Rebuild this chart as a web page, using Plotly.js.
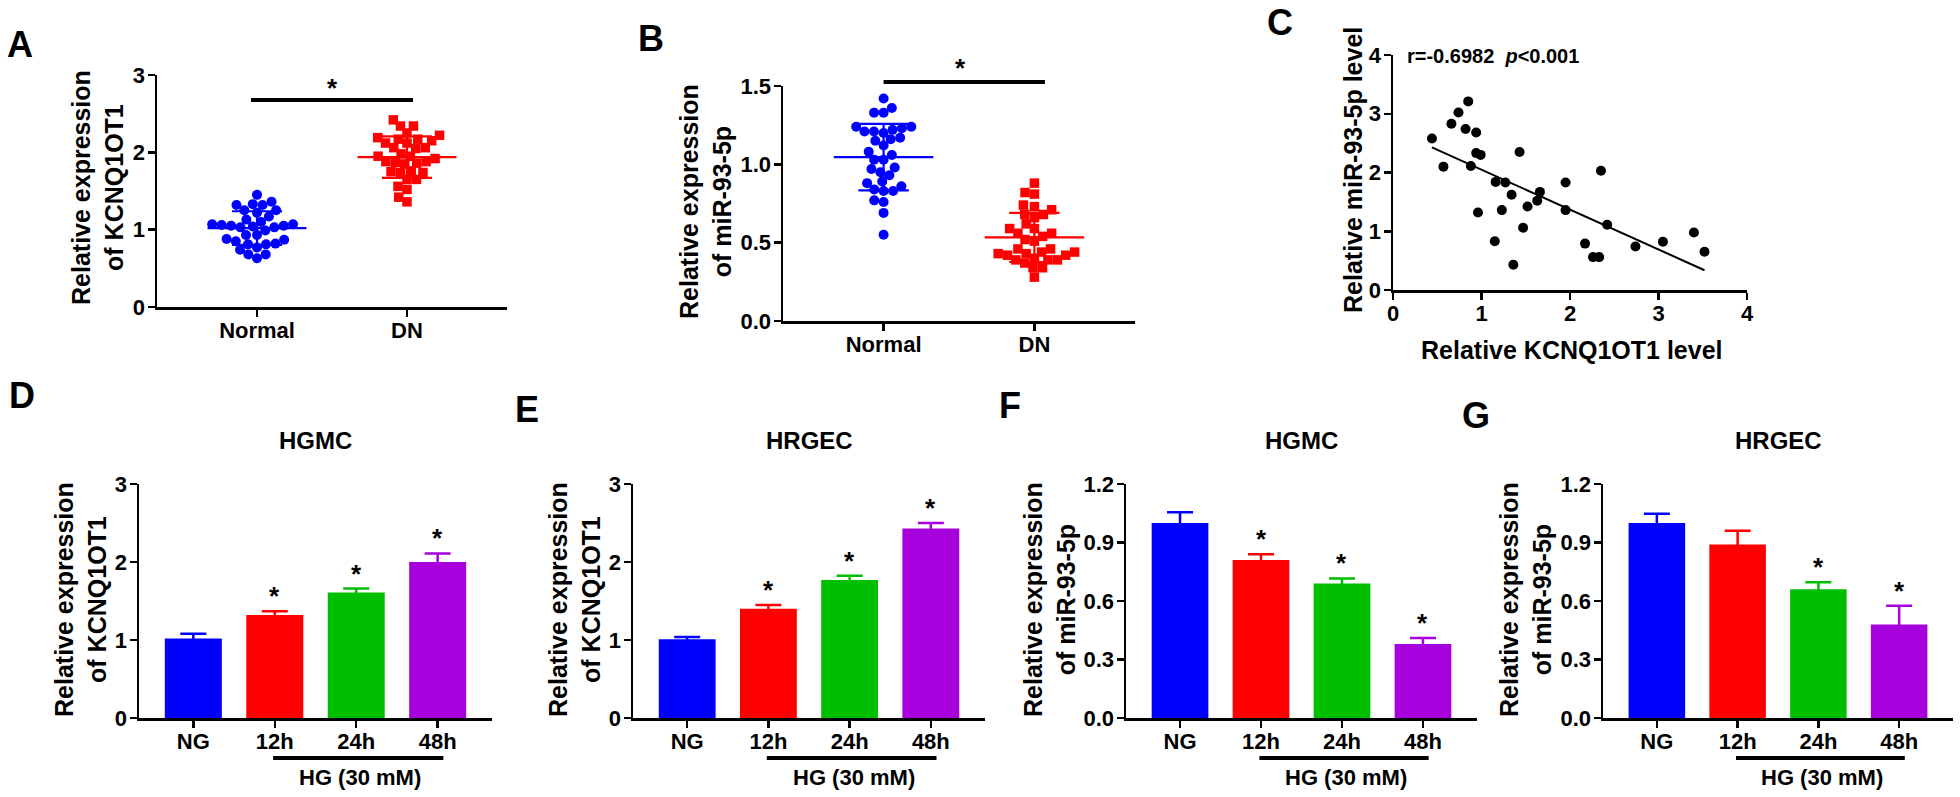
<!DOCTYPE html>
<html>
<head>
<meta charset="utf-8">
<script src="https://cdn.plot.ly/plotly-3.0.1.min.js"></script>
<style>
  html, body { margin: 0; padding: 0; background: #fff; }
  #fig { width: 1960px; height: 797px; }
</style>
</head>
<body>
<div id="fig"></div>
<script>
const W = 1960;
const H = 797;
const FONT = 'Liberation Sans, Arial, sans-serif';

// A: KCNQ1OT1 in tissue
const tissueGroups = ['Normal', 'DN'];
const kcnqNormal = [1.45, 1.33, 1.32, 1.32, 1.36, 1.25, 1.22, 1.25, 1.17, 1.13, 1.10, 1.07, 1.05,
  1.03, 1.03, 1.04, 1.05, 1.06, 1.07, 0.93, 0.99, 0.93, 0.88, 0.85, 0.82, 0.87, 0.81, 0.77,
  0.81, 0.74, 0.68, 0.68, 0.63];
const kcnqDN = [2.42, 2.34, 2.34, 2.22, 2.25, 2.17, 2.15, 2.17, 2.19, 2.12, 2.12, 2.06, 2.05,
  2.06, 1.98, 1.95, 1.92, 1.95, 1.86, 1.85, 1.88, 1.87, 1.88, 1.76, 1.74, 1.74, 1.75, 1.65,
  1.65, 1.52, 1.56, 1.36, 1.42];

// B: miR-93-5p in tissue
const mirNormal = [1.42, 1.33, 1.36, 1.33, 1.23, 1.21, 1.20, 1.24, 1.24, 1.21, 1.22, 1.16, 1.15,
  1.17, 1.12, 1.08, 1.06, 1.03, 1.03, 0.98, 0.97, 0.95, 0.93, 0.88, 0.89, 0.84, 0.83, 0.83,
  0.86, 0.76, 0.77, 0.69, 0.55];
const mirDN = [0.88, 0.81, 0.82, 0.73, 0.74, 0.71, 0.68, 0.66, 0.68, 0.62, 0.59, 0.59, 0.56,
  0.54, 0.51, 0.52, 0.56, 0.46, 0.44, 0.43, 0.42, 0.39, 0.39, 0.39, 0.40, 0.42, 0.43, 0.44,
  0.46, 0.34, 0.34, 0.37, 0.28];

// C: correlation
const corrKcnq = [0.44, 0.57, 0.66, 0.74, 0.85, 0.82, 0.94, 0.94, 0.99, 0.88, 0.96, 1.16, 1.27,
  1.15, 1.23, 1.34, 1.43, 1.36, 1.47, 1.52, 1.63, 1.66, 1.95, 1.95, 2.17, 2.26, 2.33, 2.35,
  2.42, 2.74, 3.05, 3.40, 3.52];
const corrMir = [2.58, 2.10, 2.83, 3.02, 3.21, 2.74, 2.68, 2.33, 2.30, 2.11, 1.32, 1.84, 1.83,
  0.83, 1.36, 1.62, 2.35, 0.43, 1.06, 1.42, 1.52, 1.67, 1.83, 1.36, 0.79, 0.56, 0.56, 2.03,
  1.11, 0.74, 0.82, 0.98, 0.65];
const corrText = 'r=-0.6982\u00a0\u00a0<i>p</i>&lt;0.001';

// D-G: cell lines, time course
const timeLabels = ['NG', '12h', '24h', '48h'];
const barColors = ['#0000FF', '#FF0000', '#00BE00', '#A600DC'];
const hgmcKcnq = [1.02, 1.32, 1.61, 2.00];
const hgmcKcnqSd = [0.06, 0.05, 0.05, 0.11];
const hgmcKcnqSig = [false, true, true, true];
const hrgecKcnq = [1.01, 1.40, 1.77, 2.43];
const hrgecKcnqSd = [0.03, 0.05, 0.055, 0.07];
const hrgecKcnqSig = [false, true, true, true];
const hgmcMir = [1.00, 0.81, 0.69, 0.38];
const hgmcMirSd = [0.055, 0.03, 0.026, 0.03];
const hgmcMirSig = [false, true, true, true];
const hrgecMir = [1.00, 0.89, 0.66, 0.48];
const hrgecMirSd = [0.047, 0.07, 0.036, 0.096];
const hrgecMirSig = [false, false, true, true];

const X = px => px / W;
const Y = py => 1 - py / H;

const traces = [];
const layout = {
  width: W,
  height: H,
  margin: {l: 0, r: 0, t: 0, b: 0},
  paper_bgcolor: '#fff',
  plot_bgcolor: 'rgba(0,0,0,0)',
  showlegend: false,
  barmode: 'overlay',
  font: {family: FONT, color: '#000'},
  annotations: [],
  shapes: [],
};

const axisStyle = {
  showline: true, linecolor: '#000', linewidth: 2.5,
  ticks: 'outside', ticklen: 7, tickwidth: 2.5, tickcolor: '#000',
  showgrid: false, zeroline: false, fixedrange: true,
};

function setAxes(n, g, xOpts, yOpts) {
  const s = n === 1 ? '' : String(n);
  layout['xaxis' + s] = Object.assign({}, axisStyle, {
    domain: [X(g.l), X(g.r)], range: g.xr, anchor: 'y' + s, ticklabelstandoff: -5,
    tickfont: {family: FONT, size: 22, weight: 'bold', color: '#000'},
  }, xOpts);
  layout['yaxis' + s] = Object.assign({}, axisStyle, {
    domain: [Y(g.b), Y(g.t)], range: g.yr, anchor: 'x' + s, ticklabelstandoff: -2,
    tickfont: {family: FONT, size: 22, weight: 'bold', color: '#000'},
  }, yOpts);
  return {x: 'x' + s, y: 'y' + s};
}

function text(t, px, py, size, extra) {
  layout.annotations.push(Object.assign({
    text: t, x: X(px), y: Y(py), xref: 'paper', yref: 'paper',
    showarrow: false, xanchor: 'center', yanchor: 'middle',
    font: {family: FONT, size: size, weight: 'bold', color: '#000'},
  }, extra || {}));
}

function mean(a) { return a.reduce((s, v) => s + v, 0) / a.length; }
function sd(a) {
  const m = mean(a);
  return Math.sqrt(a.reduce((s, v) => s + (v - m) * (v - m), 0) / (a.length - 1));
}

// horizontal offsets so that dots of one column do not overlap (beeswarm)
function swarm(values, pxY, pxX, diam) {
  const order = values.map((v, i) => i).sort((a, b) => values[a] - values[b]);
  const placed = [];
  const offs = new Array(values.length);
  for (const i of order) {
    const y = values[i] * pxY;
    const blocked = [];
    placed.forEach(p => {
      const dy = y - p.y;
      if (Math.abs(dy) < diam) {
        const dx = Math.sqrt(diam * diam - dy * dy);
        blocked.push([p.x - dx, p.x + dx]);
      }
    });
    const cands = [0];
    blocked.forEach(b => cands.push(b[0], b[1]));
    cands.sort((a, b) => Math.abs(a) - Math.abs(b));
    let x = 0;
    for (const c of cands) {
      if (blocked.every(b => c <= b[0] + 1e-6 || c >= b[1] - 1e-6)) { x = c; break; }
    }
    placed.push({x: x, y: y});
    offs[i] = x / pxX;
  }
  return offs;
}

function dotPanel(ax, g, groups) {
  const pxX = (g.r - g.l) / (g.xr[1] - g.xr[0]);
  const pxY = (g.b - g.t) / (g.yr[1] - g.yr[0]);
  groups.forEach((grp, k) => {
    const offs = swarm(grp.vals, pxY, pxX, 9.5);
    traces.push({
      type: 'scatter', mode: 'markers', xaxis: ax.x, yaxis: ax.y,
      x: offs.map(o => k + o), y: grp.vals,
      marker: {color: grp.color, size: grp.size, symbol: grp.symbol},
      hoverinfo: 'skip',
    });
    const m = mean(grp.vals);
    const s = sd(grp.vals);
    traces.push({
      type: 'scatter', mode: 'lines', xaxis: ax.x, yaxis: ax.y,
      x: [k - 0.33, k + 0.33, null, k - 0.167, k + 0.167, null, k - 0.167, k + 0.167, null, k, k],
      y: [m, m, null, m + s, m + s, null, m - s, m - s, null, m - s, m + s],
      line: {color: grp.color, width: 2.2},
      hoverinfo: 'skip',
    });
  });
}

function barPanel(ax, means, sds, sig) {
  means.forEach((v, i) => {
    traces.push({
      type: 'bar', xaxis: ax.x, yaxis: ax.y,
      x: [i], y: [v], width: 0.7,
      marker: {color: barColors[i], line: {width: 0}},
      error_y: {type: 'data', array: [sds[i]], color: barColors[i], thickness: 2.5, width: 13},
      hoverinfo: 'skip',
    });
    if (sig[i]) {
      layout.annotations.push({
        text: '*', x: i, y: v + sds[i], xref: ax.x, yref: ax.y,
        showarrow: false, xanchor: 'center', yanchor: 'bottom', yshift: -2,
        font: {family: FONT, size: 26, weight: 'bold', color: '#000'},
      });
    }
  });
  layout.shapes.push({
    type: 'line', xref: ax.x, yref: 'paper', x0: 0.98, x1: 3.07, y0: Y(758), y1: Y(758),
    line: {color: '#000', width: 4},
  });
  layout.annotations.push({
    text: 'HG (30 mM)', x: 2.05, y: Y(777), xref: ax.x, yref: 'paper',
    showarrow: false, xanchor: 'center', yanchor: 'middle',
    font: {family: FONT, size: 22, weight: 'bold', color: '#000'},
  });
}

// ---- A ----
const gA = {l: 157, r: 507, t: 75, b: 307, xr: [-0.667, 1.667], yr: [0, 3]};
const axA = setAxes(1, gA, {tickvals: [0, 1], ticktext: tissueGroups}, {dtick: 1, tick0: 0});
dotPanel(axA, gA, [
  {vals: kcnqNormal, color: '#0000FF', symbol: 'circle', size: 10},
  {vals: kcnqDN, color: '#FF0000', symbol: 'square', size: 9.5},
]);
layout.shapes.push({type: 'line', xref: axA.x, yref: 'paper', x0: -0.04, x1: 1.04,
  y0: Y(100), y1: Y(100), line: {color: '#000', width: 4}});
text('*', 332, 88, 26);
text('Relative expression<br>of KCNQ1OT1', 97, 188, 25, {textangle: -90});

// ---- B ----
const gB = {l: 783, r: 1135, t: 86, b: 321, xr: [-0.667, 1.667], yr: [0, 1.5]};
const axB = setAxes(2, gB, {tickvals: [0, 1], ticktext: tissueGroups},
  {dtick: 0.5, tick0: 0, tickformat: '.1f'});
dotPanel(axB, gB, [
  {vals: mirNormal, color: '#0000FF', symbol: 'circle', size: 10},
  {vals: mirDN, color: '#FF0000', symbol: 'square', size: 9.5},
]);
layout.shapes.push({type: 'line', xref: axB.x, yref: 'paper', x0: 0, x1: 1.07,
  y0: Y(82), y1: Y(82), line: {color: '#000', width: 4}});
text('*', 960, 68, 26);
text('Relative expression<br>of miR-93-5p', 706, 202, 25, {textangle: -90});

// ---- C ----
const gC = {l: 1393, r: 1747, t: 55, b: 290, xr: [0, 4], yr: [0, 4]};
const axC = setAxes(3, gC, {dtick: 1, tick0: 0}, {dtick: 1, tick0: 0});
traces.push({
  type: 'scatter', mode: 'markers', xaxis: axC.x, yaxis: axC.y,
  x: corrKcnq, y: corrMir, marker: {color: '#000', size: 10}, hoverinfo: 'skip',
});
const mx = mean(corrKcnq);
const my = mean(corrMir);
let sxy = 0, sxx = 0;
corrKcnq.forEach((v, i) => { sxy += (v - mx) * (corrMir[i] - my); sxx += (v - mx) * (v - mx); });
const slope = sxy / sxx;
const icpt = my - slope * mx;
const fitX = [Math.min(...corrKcnq), Math.max(...corrKcnq)];
traces.push({
  type: 'scatter', mode: 'lines', xaxis: axC.x, yaxis: axC.y,
  x: fitX, y: fitX.map(v => icpt + slope * v),
  line: {color: '#000', width: 2}, hoverinfo: 'skip',
});
text(corrText, 1405, 56, 20, {xanchor: 'left'});
text('Relative miR-93-5p level', 1353, 170, 25, {textangle: -90});
text('Relative KCNQ1OT1 level', 1572, 350, 25);

// ---- D-G ----
const barPanels = [
  {g: {l: 139, r: 492}, title: 'HGMC', vals: hgmcKcnq, sds: hgmcKcnqSd, sig: hgmcKcnqSig,
    yr: [0, 3], dtick: 1, fmt: '', ytitle: 'Relative expression<br>of KCNQ1OT1', tx: 80},
  {g: {l: 633, r: 985}, title: 'HRGEC', vals: hrgecKcnq, sds: hrgecKcnqSd, sig: hrgecKcnqSig,
    yr: [0, 3], dtick: 1, fmt: '', ytitle: 'Relative expression<br>of KCNQ1OT1', tx: 574},
  {g: {l: 1126, r: 1477}, title: 'HGMC', vals: hgmcMir, sds: hgmcMirSd, sig: hgmcMirSig,
    yr: [0, 1.2], dtick: 0.3, fmt: '.1f', ytitle: 'Relative expression<br>of miR-93-5p', tx: 1049},
  {g: {l: 1603, r: 1953}, title: 'HRGEC', vals: hrgecMir, sds: hrgecMirSd, sig: hrgecMirSig,
    yr: [0, 1.2], dtick: 0.3, fmt: '.1f', ytitle: 'Relative expression<br>of miR-93-5p', tx: 1525},
];
barPanels.forEach((p, k) => {
  const g = Object.assign({t: 484, b: 718, xr: [-0.667, 3.667], yr: p.yr}, p.g);
  const ax = setAxes(4 + k, g, {tickvals: [0, 1, 2, 3], ticktext: timeLabels},
    {dtick: p.dtick, tick0: 0, tickformat: p.fmt});
  barPanel(ax, p.vals, p.sds, p.sig);
  text(p.title, (g.l + g.r) / 2, 440, 24);
  text(p.ytitle, p.tx, 600, 25, {textangle: -90});
});

// panel letters
[['A', 20, 45], ['B', 651, 38], ['C', 1280, 22], ['D', 22, 395],
 ['E', 527, 409], ['F', 1010, 405], ['G', 1476, 415]].forEach(l => text(l[0], l[1], l[2], 36));

Plotly.newPlot('fig', traces, layout, {staticPlot: true, displayModeBar: false});
</script>
</body>
</html>
